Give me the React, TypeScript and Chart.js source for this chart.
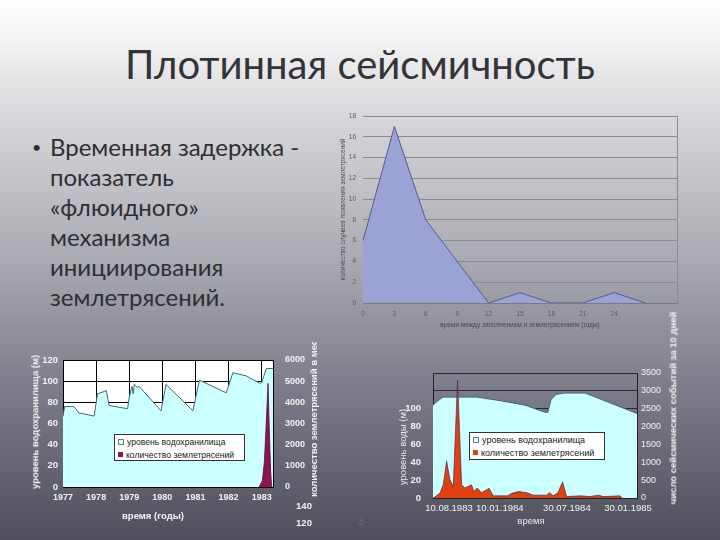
import React, { useEffect, useRef } from 'react';
import { Chart, registerables } from 'chart.js';
Chart.register(...registerables);

const FONT = '"Liberation Sans", Arial, sans-serif';

// ---- Main chart: delay between filling and earthquake ----
const delayLabels = ['0', '3', '6', '9', '12', '15', '18', '21', '24', '', ''];
const delayCounts = [6, 17, 8, 4, 0, 1, 0, 0, 1, 0, null];

// ---- Bottom-left chart: reservoir level 1977-1983 ----
const levelYears = [1977.0, 1977.05, 1977.33, 1977.48, 1977.94, 1978.04, 1978.31, 1978.39, 1978.95, 1979.0, 1979.08, 1979.12, 1979.15, 1979.25, 1979.3, 1979.96, 1980.11, 1980.92, 1981.12, 1981.93, 1982.13, 1982.53, 1982.94, 1983.0, 1983.14, 1983.34];
const levelValues = [67, 76, 76, 70, 67, 88, 91, 77, 74, 85, 95, 88, 97, 94, 95, 72, 97, 72, 101, 89, 108, 105, 98, 99, 112, 112];
const quakeYears = [1982.92, 1983.02, 1983.08, 1983.13, 1983.19, 1983.23, 1983.27, 1983.3];
const quakeMonthly = [0, 300, 1200, 2800, 4900, 2600, 700, 0];
const yearTicks = [1977, 1978, 1979, 1980, 1981, 1982, 1983];
const yearLabels = ['1977', '1978', '1979', '1980', '1981', '1982', '1983'];
const quakeTickLabels = ['0', '1000', '2000', '3000', '4000', '5000', '6000'];

// ---- Bottom-right chart: 1983-1985 (days from 10.08.1983) ----
const waterDays = [-48, -36, -18, 84, 154, 229, 289, 298, 307, 322, 349, 410, 566];
const waterLevels = [104, 108, 113, 113, 109, 104, 96, 96, 110, 116, 117.5, 117.5, 94.6];
const eventDays = [-48, -42, -27, -17, -7, 3, 13, 26, 38, 48, 68, 75, 85, 98, 121, 133, 177, 189, 209, 234, 254, 294, 302, 314, 328, 342, 354, 395, 425, 450, 464, 515, 521];
const eventCounts = [0, 30, 140, 370, 1030, 510, 320, 3300, 370, 280, 370, 180, 280, 150, 270, 60, 60, 130, 180, 150, 80, 80, 150, 60, 150, 450, 40, 60, 40, 80, 40, 60, 0];
const dateTicks = [0, 153, 355, 539];
const dateLabels = ['10.08.1983', '10.01.1984', '30.07.1984', '30.01.1985'];
const waterTickLabels = ['0', '20', '40', '60', '80', '100', '', ''];
const eventTickLabels = ['0', '500', '1000', '1500', '2000', '2500', '3000', '3500'];

const bulletLines = ['Временная задержка -', 'показатель', '«флюидного»', 'механизма', 'инициирования', 'землетрясений.'];

const plotBg = (color: string) => ({
  id: 'plotBg',
  beforeDraw(chart: any) {
    const { ctx, chartArea: a } = chart;
    ctx.save();
    ctx.fillStyle = color;
    ctx.fillRect(a.left, a.top, a.right - a.left, a.bottom - a.top);
    ctx.restore();
  },
});

function useChart(ref: any, make: () => any) {
  useEffect(() => {
    const c = new Chart(ref.current, make());
    return () => c.destroy();
  }, []);
}

const pts = (xs: number[], ys: number[]) => xs.map((x, i) => ({ x, y: ys[i] }));

function MainChart() {
  const ref = useRef<HTMLCanvasElement>(null);
  useChart(ref, () => ({
    type: 'line',
    data: {
      labels: delayLabels,
      datasets: [{
        data: delayCounts, fill: 'origin', backgroundColor: '#9aa2d6', borderColor: '#575c8e',
        borderWidth: 1, pointRadius: 0, tension: 0,
      }],
    },
    options: {
      responsive: false, animation: false, devicePixelRatio: 1,
      layout: { padding: { top: 11, right: 8, left: 0, bottom: 0 } },
      plugins: { legend: { display: false }, tooltip: { enabled: false } },
      scales: {
        x: {
          offset: false,
          grid: { drawTicks: false, color: (c: any) => (c.index === delayLabels.length - 1 ? '#8a8a92' : 'rgba(0,0,0,0)') },
          border: { display: true, color: '#7a7a82' },
          ticks: { padding: 7, color: '#5a5a62', font: { size: 6.5, family: FONT }, autoSkip: false, maxRotation: 0 },
          title: { display: true, text: 'время между заполнением и землетрясением (годы)', color: '#4a4a52', font: { size: 6.5, family: FONT }, padding: { top: 0, bottom: 11 } },
          afterFit: (s: any) => { s.height = 37; },
        },
        y: {
          min: 0, max: 18,
          grid: { drawTicks: false, color: '#8a8a92' },
          border: { display: false },
          ticks: { stepSize: 2, padding: 7, color: '#5a5a62', font: { size: 6.5, family: FONT } },
          title: { display: true, text: 'количество случаев появления землетрясений', color: '#4a4a52', font: { size: 6.5, family: FONT }, padding: { top: 4, bottom: 0 } },
          afterFit: (s: any) => { s.width = 28; },
        },
      },
    },
  }));
  return <canvas ref={ref} width={350} height={235} style={{ position: 'absolute', left: 335, top: 105 }} />;
}

function LeftChart() {
  const ref = useRef<HTMLCanvasElement>(null);
  useChart(ref, () => ({
    type: 'line',
    data: {
      datasets: [
        { data: pts(quakeYears, quakeMonthly), yAxisID: 'y2', fill: 'origin', backgroundColor: '#8c1450', borderColor: '#5a0a30', borderWidth: 0.8, pointRadius: 0, order: 0 },
        { data: pts(levelYears, levelValues), yAxisID: 'y', fill: 'origin', backgroundColor: '#ccffff', borderColor: '#3d6b6e', borderWidth: 1, pointRadius: 0, order: 1 },
      ],
    },
    plugins: [plotBg('#ffffff')],
    options: {
      responsive: false, animation: false, devicePixelRatio: 1,
      layout: { padding: { top: 20, right: 0, left: 0, bottom: 0 } },
      plugins: { legend: { display: false }, tooltip: { enabled: false } },
      scales: {
        x: {
          type: 'linear', min: 1977, max: 1983.34,
          afterBuildTicks: (s: any) => { s.ticks = yearTicks.map((v) => ({ value: v })); },
          grid: { drawTicks: false, color: '#000000', lineWidth: 1 },
          border: { color: '#000000' },
          ticks: { padding: 5, color: '#f2f2f2', font: { size: 9, weight: 'bold', family: FONT }, autoSkip: false, maxRotation: 0, callback: (_v: any, i: number) => yearLabels[i] },
          afterFit: (s: any) => { s.height = 53; },
        },
        y: {
          min: 0, max: 120,
          grid: { drawTicks: false, color: '#000000' },
          border: { color: '#000000' },
          ticks: { stepSize: 20, padding: 5, color: '#f2f2f2', font: { size: 9.5, weight: 'bold', family: FONT } },
          afterFit: (s: any) => { s.width = 41; },
        },
        y2: {
          position: 'right', min: 0, max: 6000,
          grid: { display: false },
          border: { color: '#000000' },
          ticks: { stepSize: 1000, padding: 4, color: '#f2f2f2', font: { size: 9, weight: 'bold', family: FONT }, callback: (_v: any, i: number) => quakeTickLabels[i] },
          afterFit: (s: any) => { s.width = 54; },
        },
      },
    },
  }));
  return <canvas ref={ref} width={305} height={200} style={{ position: 'absolute', left: 22, top: 340 }} />;
}

function RightChart() {
  const ref = useRef<HTMLCanvasElement>(null);
  useChart(ref, () => ({
    type: 'line',
    data: {
      datasets: [
        { data: pts(eventDays, eventCounts), yAxisID: 'y2', fill: 'origin', backgroundColor: '#e2400c', borderColor: '#3a2a6a', borderWidth: 0.7, pointRadius: 0, order: 0 },
        { data: pts(waterDays, waterLevels), yAxisID: 'y', fill: 'origin', backgroundColor: '#ccffff', borderColor: '#3d6b6e', borderWidth: 1, pointRadius: 0, order: 1 },
      ],
    },
    options: {
      responsive: false, animation: false, devicePixelRatio: 1,
      layout: { padding: { top: 23, right: 0, left: 0, bottom: 0 } },
      plugins: { legend: { display: false }, tooltip: { enabled: false } },
      scales: {
        x: {
          type: 'linear', min: -48, max: 566,
          afterBuildTicks: (s: any) => { s.ticks = dateTicks.map((v) => ({ value: v })); },
          grid: { display: false, drawTicks: false },
          border: { color: '#222' },
          ticks: { padding: 5, color: '#f2f2f2', font: { size: 9.5, family: FONT }, autoSkip: false, maxRotation: 0, callback: (_v: any, i: number) => dateLabels[i] },
          afterFit: (s: any) => { s.height = 27; },
        },
        y: {
          min: 0, max: 140,
          grid: { display: false },
          border: { color: '#222' },
          ticks: { stepSize: 20, padding: 4, color: '#f2f2f2', font: { size: 9.5, weight: 'bold', family: FONT }, callback: (_v: any, i: number) => waterTickLabels[i] },
          afterFit: (s: any) => { s.width = 38; },
        },
        y2: {
          position: 'right', min: 0, max: 3500,
          grid: { drawTicks: false, color: '#2a2a30' },
          border: { color: '#222' },
          ticks: { stepSize: 500, padding: 4, color: '#f2f2f2', font: { size: 9, family: FONT }, callback: (_v: any, i: number) => eventTickLabels[i] },
          afterFit: (s: any) => { s.width = 48; },
        },
      },
    },
  }));
  return <canvas ref={ref} width={290} height={175} style={{ position: 'absolute', left: 395, top: 350 }} />;
}

const abs = (o: any) => ({ position: 'absolute' as const, ...o });

function VText({ x, y, text, size, weight, color }: any) {
  return (
    <div style={abs({ left: x, top: y, transform: 'translate(-50%,-50%) rotate(-90deg)', whiteSpace: 'nowrap', fontFamily: FONT, fontSize: size, fontWeight: weight, color, lineHeight: 1 })}>{text}</div>
  );
}

function Legend({ left, top, width, height, second, size }: any) {
  const row = { display: 'flex', alignItems: 'center', height: 12.5, whiteSpace: 'nowrap' } as const;
  return (
    <div style={abs({ left, top, width, height, background: '#ffffff', border: '1px solid #333', boxSizing: 'border-box', fontFamily: FONT, fontSize: size, color: '#222', padding: '1px 0 0 3px', overflow: 'hidden' })}>
      <div style={row}><span style={{ width: 4, height: 4, border: '1px solid #777', background: '#ccffff', marginRight: 3, flex: 'none' }} />уровень водохранилища</div>
      <div style={row}><span style={{ width: 5, height: 5, background: second, marginRight: 3, flex: 'none' }} />количество землетрясений</div>
    </div>
  );
}

export default function App() {
  return (
    <div style={abs({ left: 0, top: 0, width: 720, height: 540, overflow: 'hidden', background: 'linear-gradient(180deg, #ffffff 0px, #f3f3f4 40px, #d6d6da 120px, #a9a9b1 260px, #7c7c88 390px, #4f4f5c 540px)' })}>
      <div style={abs({ left: 0, top: 39, width: 720, textAlign: 'center', fontFamily: 'Lato, "Open Sans", sans-serif', fontSize: 40, color: '#333338', lineHeight: '50px' })}>Плотинная сейсмичность</div>
      <div style={abs({ left: 32, top: 132, fontFamily: 'Lato, "Open Sans", sans-serif', fontSize: 24, color: '#2e2e34', lineHeight: '30px' })}>
        {bulletLines.map((l, i) => (
          <div key={i} style={{ position: 'relative', paddingLeft: 18, whiteSpace: 'nowrap' }}>
            {i === 0 && <span style={{ position: 'absolute', left: 0, fontSize: 16 }}>•</span>}
            {l}
          </div>
        ))}
      </div>

      <MainChart />
      <LeftChart />
      <RightChart />

      <Legend left={114} top={434} width={131} height={27} second="#8c1450" size={8.6} />
      <Legend left={469} top={432} width={136} height={28} second="#e2400c" size={9} />

      <VText x={35} y={422} text="уровень водохранилища (м)" size={9.5} weight="bold" color="#f2f2f2" />
      <div style={abs({ left: 295, top: 342, width: 30, height: 170, overflow: 'hidden' })}>
        <div style={abs({ left: 12.5, top: 155, transformOrigin: '0 0', transform: 'rotate(-90deg)', whiteSpace: 'nowrap', fontFamily: FONT, fontSize: 9.5, fontWeight: 'bold', color: '#f2f2f2', lineHeight: '11px' })}>количество землетрясений в месяц</div>
      </div>
      <div style={abs({ left: 153, top: 515, transform: 'translate(-50%,-50%)', fontFamily: FONT, fontSize: 9.5, fontWeight: 'bold', color: '#f2f2f2', whiteSpace: 'nowrap' })}>время (годы)</div>
      <div style={abs({ left: 304, top: 505, transform: 'translate(-50%,-50%)', fontFamily: FONT, fontSize: 9.5, fontWeight: 'bold', color: '#f2f2f2' })}>140</div>
      <div style={abs({ left: 304, top: 522, transform: 'translate(-50%,-50%)', fontFamily: FONT, fontSize: 9.5, fontWeight: 'bold', color: '#f2f2f2' })}>120</div>

      <VText x={403} y={447} text="уровень воды (м)" size={9.5} weight="normal" color="#e8e8ee" />
      <VText x={673} y={408} text="число сейсмических событий за 10 дней" size={9.5} weight="bold" color="#f2f2f2" />
      <div style={abs({ left: 531, top: 520, transform: 'translate(-50%,-50%)', fontFamily: FONT, fontSize: 9.5, color: '#e8e8ee' })}>время</div>
      <div style={abs({ left: 361, top: 521, transform: 'translate(-50%,-50%)', fontFamily: FONT, fontSize: 10, color: '#6a6a74' })}>3</div>
    </div>
  );
}
